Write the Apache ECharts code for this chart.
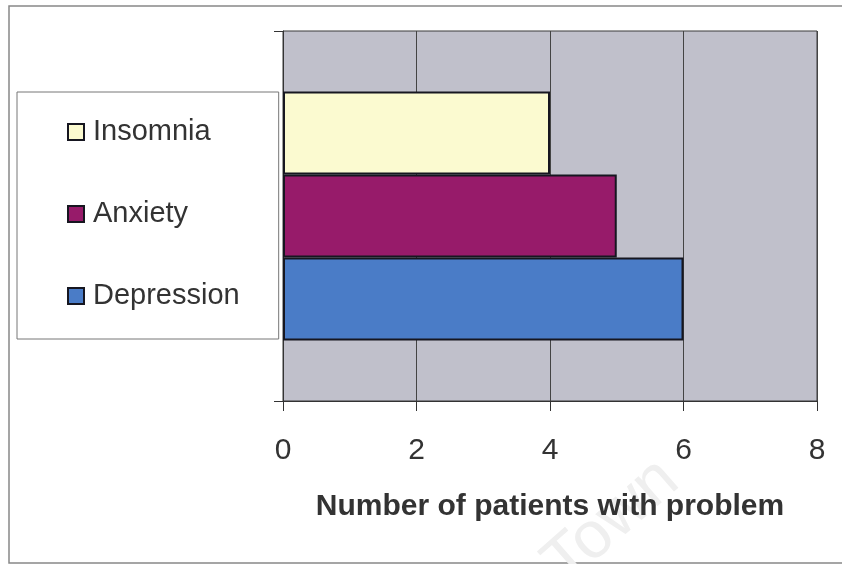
<!DOCTYPE html>
<html>
<head>
<meta charset="utf-8">
<script src="https://cdn.jsdelivr.net/npm/echarts@6/dist/echarts.min.js"></script>
<style>
  html, body { margin: 0; padding: 0; background: #fff; }
  #chart { width: 842px; height: 564px; }
</style>
</head>
<body>
<div id="chart"></div>
<script>
  // one category, three series side by side (first series drawn on top)
  const categories = ['']
  const seriesNames = ['Insomnia', 'Anxiety', 'Depression']
  const seriesValues = [[4], [5], [6]]
  const seriesColors = ['#fbfad0', '#971b6a', '#4a7cc7']
  const xTicks = { min: 0, max: 8, interval: 2 }
  const xTitle = 'Number of patients with problem'

  const font = '"Liberation Sans", Arial, sans-serif'
  const chart = echarts.init(document.getElementById('chart'))

  const option = {
    animation: false,
    backgroundColor: '#fff',
    textStyle: { fontFamily: font },
    grid: {
      left: 283,
      right: 25,
      top: 31,
      bottom: 163,
      show: true,
      backgroundColor: '#c0c0cb',
      borderColor: '#3a3a3a',
      borderWidth: 1,
    },
    legend: {
      data: seriesNames,
      orient: 'vertical',
      left: 17,
      top: 92,
      itemWidth: 16,
      itemHeight: 16,
      itemGap: 52,
      icon: 'rect',
      padding: [25, 39, 28, 50],
      backgroundColor: '#fff',
      borderColor: '#777',
      borderWidth: 1,
      textStyle: {
        fontSize: 29,
        lineHeight: 30,
        color: '#333',
        fontFamily: font,
        padding: [0, 0, 0, 4],
      },
    },
    xAxis: {
      type: 'value',
      min: xTicks.min,
      max: xTicks.max,
      interval: xTicks.interval,
      name: xTitle,
      nameLocation: 'middle',
      nameGap: 91,
      nameTextStyle: { fontSize: 30, fontWeight: 'bold', color: '#333', fontFamily: font },
      axisLine: { show: true, lineStyle: { color: '#333', width: 1 } },
      axisTick: { show: true, length: 10, lineStyle: { color: '#333' } },
      axisLabel: { fontSize: 30, color: '#333', margin: 35, fontFamily: font },
      splitLine: { show: true, lineStyle: { color: '#444', width: 1 } },
    },
    yAxis: {
      type: 'category',
      data: categories,
      axisLine: { show: true, lineStyle: { color: '#333', width: 1 } },
      axisTick: { show: true, length: 9, lineStyle: { color: '#333' } },
      axisLabel: { show: false },
      splitLine: { show: false },
    },
    graphic: [
      {
        type: 'rect',
        z: -10,
        shape: { x: 9, y: 6, width: 860, height: 557 },
        style: { fill: 'none', stroke: '#888', lineWidth: 1.5 },
      },
      {
        type: 'text',
        z: -5,
        x: 532,
        y: 548,
        rotation: 0.72,
        style: { text: 'Town', fontSize: 66, fill: '#efefef', fontFamily: font },
      },
    ],
    series: seriesNames.map((name, i) => ({
      name: name,
      type: 'bar',
      data: seriesValues[i],
      barWidth: 83,
      barGap: '0%',
      itemStyle: { color: seriesColors[i], borderColor: '#161620', borderWidth: 2 },
    })),
  }

  chart.setOption(option)
</script>
</body>
</html>
